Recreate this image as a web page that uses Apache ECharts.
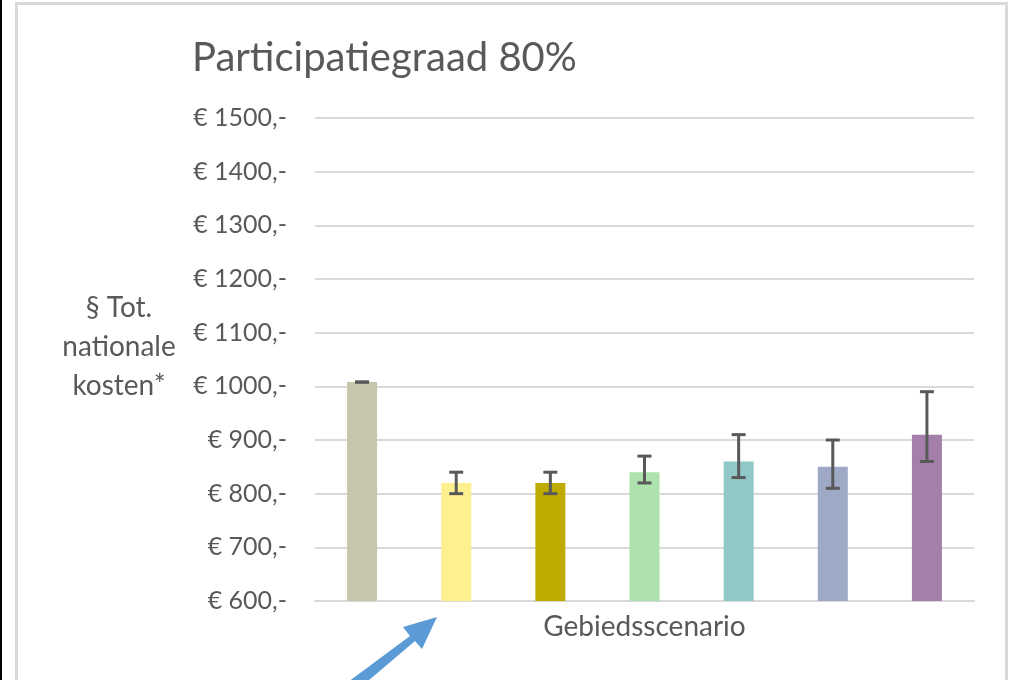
<!DOCTYPE html>
<html><head><meta charset="utf-8">
<script src="https://cdn.jsdelivr.net/npm/echarts@6/dist/echarts.min.js"></script>
<style>html,body{margin:0;padding:0;background:#fff}#c{width:1009px;height:680px}</style>
</head><body><div id="c"></div>
<script>
const categories = ['S1','S2','S3','S4','S5','S6','S7'];
const values = [1008, 820, 820, 840, 860, 850, 910];
const errLow = [1008, 800, 800, 820, 830, 810, 860];
const errHigh = [1008, 840, 840, 870, 910, 900, 990];
const colors = ['#C6C6AD', '#FFF08F', '#BFAB00', '#ADE2AD', '#8FC8C6', '#9EA9C6', '#A37FA9'];
const yTicks = [600, 700, 800, 900, 1000, 1100, 1200, 1300, 1400, 1500];

const FONT = 'Lato';
const chart = echarts.init(document.getElementById('c'));
chart.setOption({
  backgroundColor: '#fff',
  animation: false,
  title: {
    text: 'Participatiegraad 80%',
    left: 187, top: 33,
    textStyle: { fontFamily: FONT, fontSize: 40, fontWeight: 'normal', color: '#595959' }
  },
  grid: { left: 315, right: 35, top: 118, bottom: 79 },
  xAxis: {
    type: 'category',
    data: categories,
    name: 'Gebiedsscenario',
    nameLocation: 'middle',
    nameGap: 12,
    nameTextStyle: { fontFamily: FONT, fontSize: 28, color: '#595959' },
    axisLine: { lineStyle: { color: '#D9D9D9', width: 2 } },
    axisTick: { show: false },
    axisLabel: { show: false }
  },
  yAxis: {
    type: 'value',
    min: yTicks[0], max: yTicks[yTicks.length - 1], interval: 100,
    axisLine: { show: false },
    axisTick: { show: false },
    axisLabel: {
      formatter: v => '€ ' + v + ',-',
      fontFamily: FONT, fontSize: 25, color: '#595959', margin: 28,
      padding: [7, 0, 0, 0]
    },
    splitLine: { lineStyle: { color: '#D9D9D9', width: 2 } }
  },
  graphic: [
    { type: 'rect', shape: { x: 0, y: 0, width: 2, height: 680 }, style: { fill: '#000' }, silent: true },
    { type: 'rect', shape: { x: 16.5, y: 3.5, width: 990, height: 700 }, style: { fill: 'none', stroke: '#D9D9D9', lineWidth: 3 }, silent: true },
    { type: 'text', x: 119, y: 288, style: { text: '§ Tot.\nnationale\nkosten*', textAlign: 'center', fontFamily: FONT, fontSize: 28, lineHeight: 39, fill: '#595959' }, silent: true },
    { type: 'polygon', shape: { points: [[348, 682], [410, 636], [403, 627], [437, 617], [422, 649], [415, 641], [355, 692]] }, style: { fill: '#5B9BD5' }, silent: true }
  ],
  series: [
    {
      type: 'bar',
      barWidth: 30,
      data: values.map((v, i) => ({ value: v, itemStyle: { color: colors[i] } })),
      z: 2
    },
    {
      type: 'custom',
      z: 3,
      data: categories.map((c, i) => [i, errLow[i], errHigh[i]]),
      renderItem: function (params, api) {
        const x = api.coord([api.value(0), api.value(1)])[0];
        const yl = api.coord([api.value(0), api.value(1)])[1];
        const yh = api.coord([api.value(0), api.value(2)])[1];
        const hw = 7;
        const st = { stroke: '#595959', lineWidth: 3 };
        return {
          type: 'group',
          children: [
            { type: 'line', shape: { x1: x, y1: yl, x2: x, y2: yh }, style: st },
            { type: 'line', shape: { x1: x - hw, y1: yl, x2: x + hw, y2: yl }, style: st },
            { type: 'line', shape: { x1: x - hw, y1: yh, x2: x + hw, y2: yh }, style: st }
          ]
        };
      }
    }
  ]
});
</script></body></html>
